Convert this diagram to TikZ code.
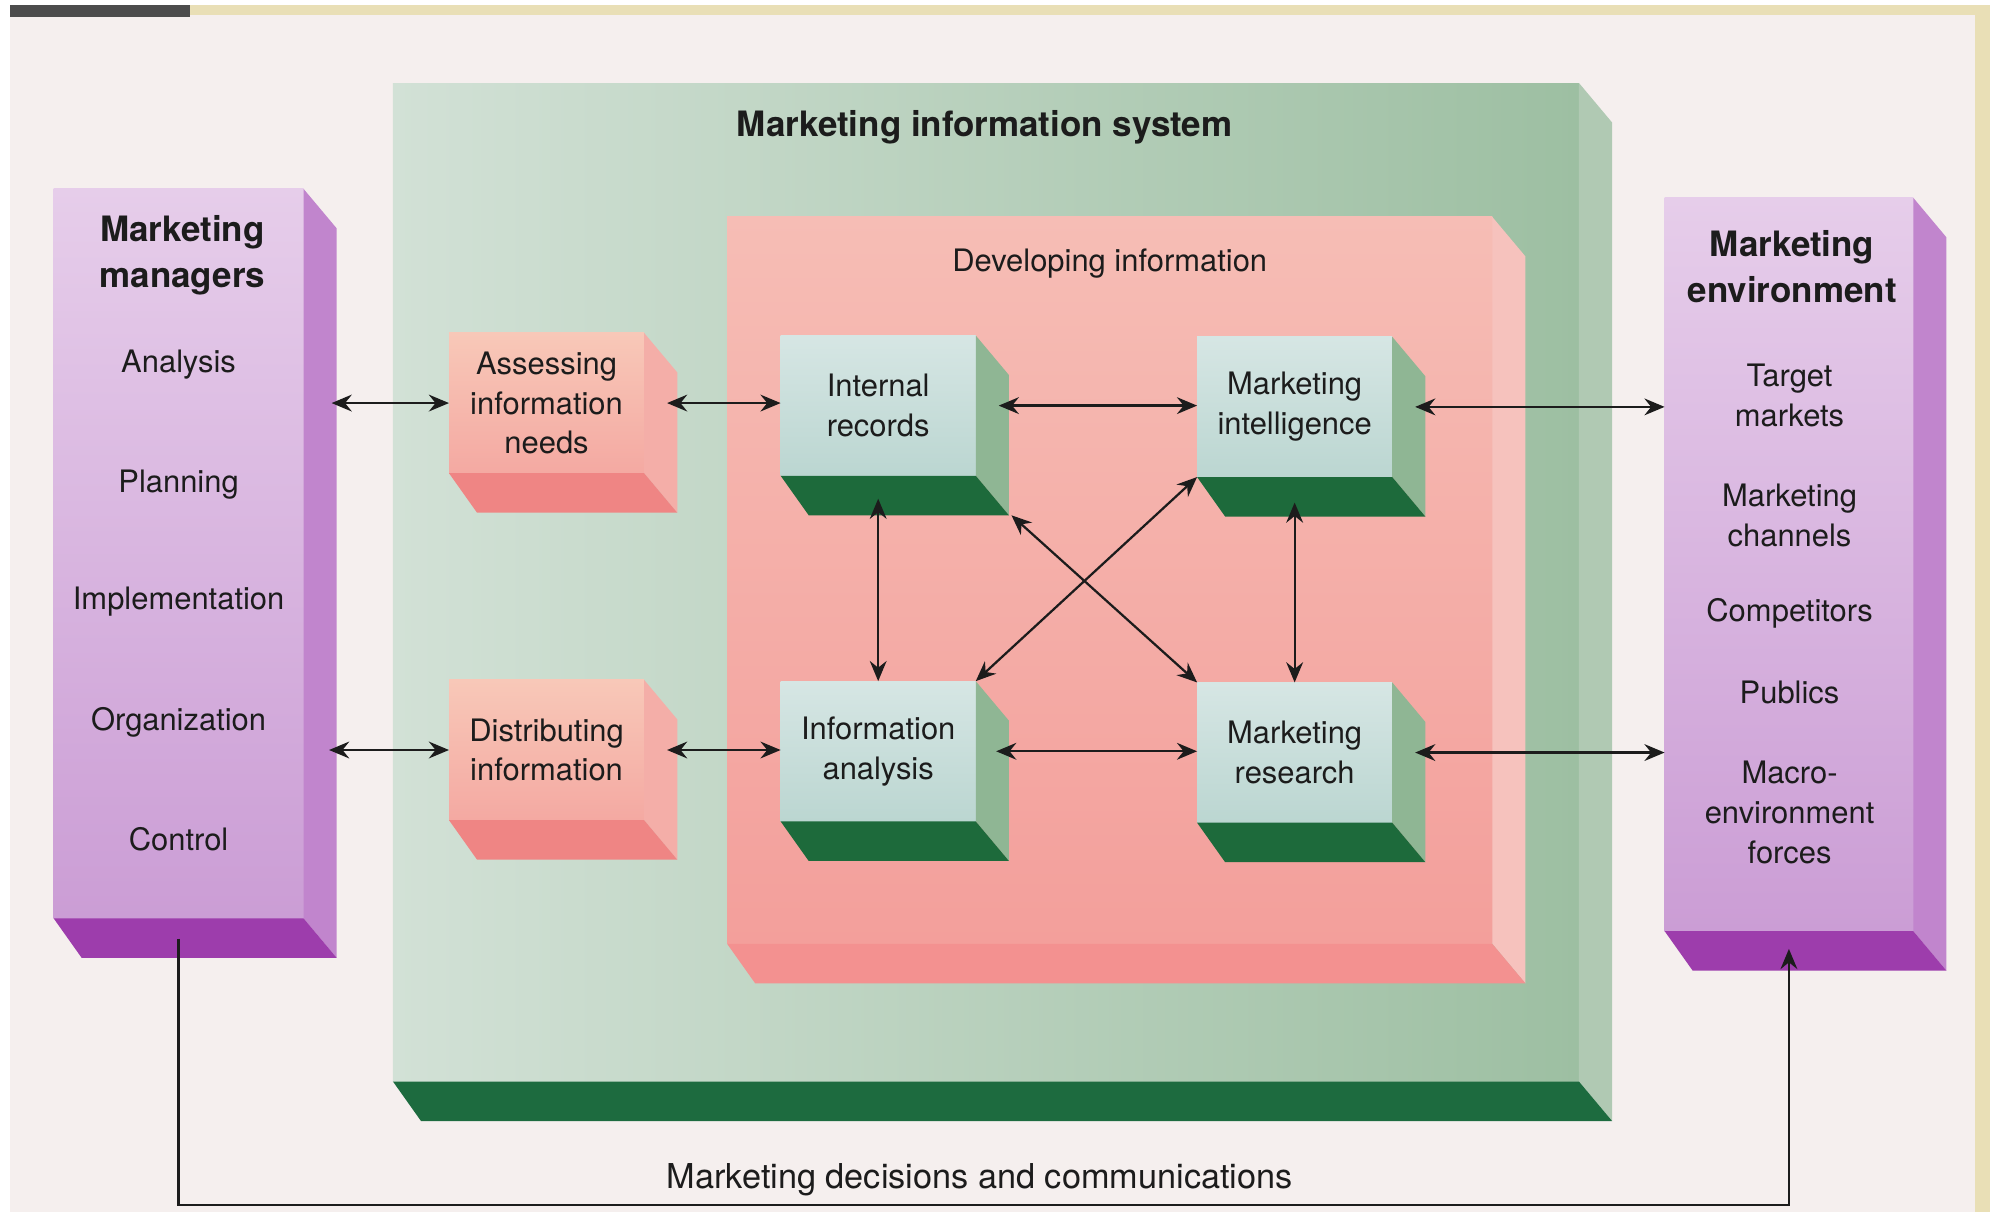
\documentclass[tikz,border=0pt]{standalone}
\usepackage{fontspec}
\setmainfont{TeX Gyre Heros}
\usepackage{tikz}
\usetikzlibrary{calc,arrows.meta}

\definecolor{bg}{HTML}{F5EFEE}
\definecolor{ink}{HTML}{1C1C1C}
\definecolor{beige}{HTML}{E9DFB6}
\definecolor{misL}{HTML}{D2E1D6}
\definecolor{misR}{HTML}{9DBFA2}
\definecolor{misside}{HTML}{B0C9B3}
\definecolor{misbot}{HTML}{1D6B3F}
\definecolor{devT}{HTML}{F6BDB5}
\definecolor{devB}{HTML}{F39F9B}
\definecolor{devside}{HTML}{F6C2BD}
\definecolor{devbot}{HTML}{F39190}
\definecolor{pkT}{HTML}{F8C8B8}
\definecolor{pkB}{HTML}{F4A9A2}
\definecolor{pkside}{HTML}{F4AEA8}
\definecolor{pkbot}{HTML}{EF8584}
\definecolor{cuT}{HTML}{D6E6E4}
\definecolor{cuB}{HTML}{BBD6D1}
\definecolor{cuside}{HTML}{8FB694}
\definecolor{cubot}{HTML}{1D6A3B}
\definecolor{mgT}{HTML}{E6CDEA}
\definecolor{mgB}{HTML}{CB9DD5}
\definecolor{mgside}{HTML}{C185CD}
\definecolor{mgbot}{HTML}{9D3DAC}

% side and bottom of a block, behind its front face
\newcommand{\depthfaces}[3]{%
  \fill[#2] (#1.north east) -- ++(26,31) -- ($(#1.south east)+(26,31)$) -- (#1.south east) -- cycle;
  \fill[#3] (#1.south west) -- (#1.south east) -- ++(26,31) -- ($(#1.south west)+(22,31)$) -- cycle;}

\begin{document}
\begin{tikzpicture}[x=0.02cm, y=-0.02cm,
    every node/.style={text=ink, align=center},
    txt/.style={font=\fontsize{13.8}{17.8}\selectfont},
    head/.style={font=\bfseries\fontsize{15.6}{20.4}\selectfont},
    face/.style={inner sep=0pt, outer sep=0pt},
    cube/.style={face, txt, minimum width=3.06cm, minimum height=2.2cm},
    tip/.tip={Stealth[length=9pt,width=7.5pt,inset=3pt]},
    link/.style={tip-tip, line width=1pt, draw=ink}]
    \useasboundingbox (0,0) rectangle (1568,950);
    \fill[bg] (0,0) rectangle (1568,950);
    \fill[white] (0,0) rectangle (8,950);
    \fill[white] (0,0) rectangle (1568,4);
    \fill[white] (1560,0) rectangle (1568,950);
    \fill[beige] (148,4) rectangle (1560,12);
    \fill[beige] (1548,4) rectangle (1560,950);
    \fill[black!70] (8,4) rectangle (149,13);

    % marketing information system
    \node[face, minimum width=18.6cm, minimum height=15.66cm, left color=misL, right color=misR] (mis) at (773,456.5) {};
    \depthfaces{mis}{misside}{misbot}
    \node[head] (mistitle) at (772,100) {Marketing information system};

    \node[face, minimum width=12cm, minimum height=11.4cm, top color=devT, bottom color=devB] (dev) at (870,455) {};
    \depthfaces{dev}{devside}{devbot}
    \node[txt] (devtitle) at (870,207) {Developing information};

    \node[cube, top color=pkT, bottom color=pkB] (ass) at (428.5,316) {Assessing\\information\\needs};
    \depthfaces{ass}{pkside}{pkbot}
    \node[cube, top color=pkT, bottom color=pkB] (dis) at (428.5,588) {Distributing\\information};
    \depthfaces{dis}{pkside}{pkbot}

    \node[cube, top color=cuT, bottom color=cuB] (rec) at (688.5,318) {Internal\\records};
    \depthfaces{rec}{cuside}{cubot}
    \node[cube, top color=cuT, bottom color=cuB] (intl) at (1015,319) {Marketing\\intelligence};
    \depthfaces{intl}{cuside}{cubot}
    \node[cube, top color=cuT, bottom color=cuB] (ana) at (688.5,589) {Information\\analysis};
    \depthfaces{ana}{cuside}{cubot}
    \node[cube, top color=cuT, bottom color=cuB] (res) at (1015,590) {Marketing\\research};
    \depthfaces{res}{cuside}{cubot}

    % managers and environment
    \node[face, minimum width=3.92cm, minimum height=11.44cm, top color=mgT, bottom color=mgB] (mgr) at (140,434) {};
    \depthfaces{mgr}{mgside}{mgbot}
    \node[head] (mgrtitle) at (143,200) {Marketing\\managers};
    \foreach \txt/\yy/\nm in {Analysis/286/an, Planning/380/pl, Implementation/472/im, Organization/566/or, Control/658/co}
        \node[txt] (\nm) at (140,\yy) {\txt};

    \node[face, minimum width=3.9cm, minimum height=11.5cm, top color=mgT, bottom color=mgB] (env) at (1402.5,442.5) {};
    \depthfaces{env}{mgside}{mgbot}
    \node[head] (envtitle) at (1405,209) {Marketing\\environment};
    \node[txt] (tm) at (1403,310) {Target\\markets};
    \node[txt] (mc) at (1403,404) {Marketing\\channels};
    \node[txt] (cp) at (1403,481) {Competitors};
    \node[txt] (pu) at (1403,543) {Publics};
    \node[txt] (mf) at (1403,637) {Macro-\\environment\\forces};

    \draw[link] ($(mgr.east |- ass.west)+(22,0)$) -- (ass.west);
    \draw[link] ($(ass.east)+(18,0)$) -- (rec.west |- ass.east);
    \draw[link] ($(rec.east)+(18,0)$) -- (intl.west |- rec.east);
    \draw[link] ($(intl.east)+(18,0)$) -- (env.west |- intl.east);
    \draw[link] ($(mgr.east |- dis.west)+(20,0)$) -- (dis.west);
    \draw[link] ($(dis.east)+(18,0)$) -- (ana.west |- dis.east);
    \draw[link] ($(ana.east)+(16,0)$) -- (res.west |- ana.east);
    \draw[link] ($(res.east)+(18,0)$) -- (env.west |- res.east);
    \draw[link] ($(rec.south)+(0,18)$) -- (ana.north);
    \draw[link] ($(intl.south)+(0,20)$) -- (res.north);
    \draw[link] ($(rec.south east)+(28,31)$) -- (res.north west);
    \draw[link] (intl.south west) -- (ana.north east);

    \coordinate (low) at (768,945);
    \draw[ink, line width=1pt, -tip] ($(mgr.south)+(0,16)$) |- (low) -| ($(env.south)+(0,14)$);
    \node[font=\fontsize{15.3}{18}\selectfont] (fb) at (768,925) {Marketing decisions and communications};
\end{tikzpicture}
\end{document}
